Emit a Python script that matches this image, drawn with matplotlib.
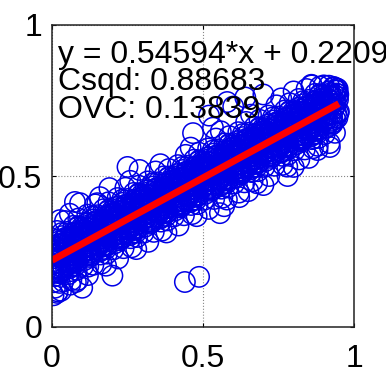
import matplotlib
matplotlib.use('Agg')
import matplotlib.pyplot as plt

plt.rcParams['font.family'] = ['Liberation Sans', 'DejaVu Sans']

# fit shown in the annotation
slope = 0.54594
intercept = 0.2209
csqd = 0.88683
ovc = 0.13839

# scatter points, one row per narrow x strip (whole cloud)
x_pts = [
    0.003, 0.021, 0.011, 0.017, 0.006, 0.024, 0.014, 0.001, 0.019, 0.009, 0.005, 0.012, 0.019, 0.023, 0.009,
    0.040, 0.029, 0.047, 0.033, 0.043, 0.037, 0.027, 0.045, 0.032, 0.050, 0.035, 0.041, 0.028, 0.046, 0.038,
    0.053, 0.071, 0.061, 0.067, 0.056, 0.074, 0.064, 0.051, 0.069, 0.059, 0.055, 0.062, 0.069, 0.073, 0.059,
    0.090, 0.079, 0.097, 0.083, 0.093, 0.087, 0.077, 0.095, 0.082, 0.100, 0.085, 0.091, 0.078, 0.096, 0.088,
    0.103, 0.121, 0.111, 0.117, 0.106, 0.124, 0.114, 0.101, 0.119, 0.109, 0.105, 0.112, 0.119, 0.123, 0.109,
    0.140, 0.129, 0.147, 0.133, 0.143, 0.137, 0.127, 0.145, 0.132, 0.150, 0.135, 0.141, 0.128, 0.146, 0.138,
    0.153, 0.171, 0.161, 0.167, 0.156, 0.174, 0.164, 0.151, 0.169, 0.159, 0.155, 0.162, 0.169, 0.173, 0.159,
    0.190, 0.179, 0.197, 0.183, 0.193, 0.187, 0.177, 0.195, 0.182, 0.200, 0.185, 0.191, 0.178, 0.196, 0.188,
    0.203, 0.221, 0.211, 0.217, 0.206, 0.224, 0.214, 0.201, 0.219, 0.209, 0.205, 0.212, 0.219, 0.223, 0.209,
    0.240, 0.229, 0.247, 0.233, 0.243, 0.237, 0.227, 0.245, 0.232, 0.250, 0.235, 0.241, 0.228, 0.246, 0.238,
    0.253, 0.271, 0.261, 0.267, 0.256, 0.274, 0.264, 0.251, 0.269, 0.259, 0.255, 0.262, 0.269, 0.273, 0.259,
    0.290, 0.279, 0.297, 0.283, 0.293, 0.287, 0.277, 0.295, 0.282, 0.300, 0.285, 0.291, 0.278, 0.296, 0.288,
    0.303, 0.321, 0.311, 0.317, 0.306, 0.324, 0.314, 0.301, 0.319, 0.309, 0.305, 0.312, 0.319, 0.323, 0.309,
    0.340, 0.329, 0.347, 0.333, 0.343, 0.337, 0.327, 0.345, 0.332, 0.350, 0.335, 0.341, 0.328, 0.346, 0.338,
    0.353, 0.371, 0.361, 0.367, 0.356, 0.374, 0.364, 0.351, 0.369, 0.359, 0.355, 0.362, 0.369, 0.373, 0.359,
    0.390, 0.379, 0.397, 0.383, 0.393, 0.387, 0.377, 0.395, 0.382, 0.400, 0.385, 0.391, 0.378, 0.396, 0.388,
    0.403, 0.421, 0.411, 0.417, 0.406, 0.424, 0.414, 0.401, 0.419, 0.409, 0.405, 0.412, 0.419, 0.423, 0.409,
    0.440, 0.429, 0.447, 0.433, 0.443, 0.437, 0.427, 0.445, 0.432, 0.450, 0.435, 0.441, 0.428, 0.446, 0.438,
    0.453, 0.471, 0.461, 0.467, 0.456, 0.474, 0.464, 0.451, 0.469, 0.459, 0.455, 0.462, 0.469, 0.473, 0.459,
    0.490, 0.479, 0.497, 0.483, 0.493, 0.487, 0.477, 0.495, 0.482, 0.500, 0.485, 0.491, 0.478, 0.496, 0.488,
    0.503, 0.521, 0.511, 0.517, 0.506, 0.524, 0.514, 0.501, 0.519, 0.509, 0.505, 0.512, 0.519, 0.523, 0.509,
    0.540, 0.529, 0.547, 0.533, 0.543, 0.537, 0.527, 0.545, 0.532, 0.550, 0.535, 0.541, 0.528, 0.546, 0.538,
    0.553, 0.571, 0.561, 0.567, 0.556, 0.574, 0.564, 0.551, 0.569, 0.559, 0.555, 0.562, 0.569, 0.573, 0.559,
    0.590, 0.579, 0.597, 0.583, 0.593, 0.587, 0.577, 0.595, 0.582, 0.600, 0.585, 0.591, 0.578, 0.596, 0.588,
    0.603, 0.621, 0.611, 0.617, 0.606, 0.624, 0.614, 0.601, 0.619, 0.609, 0.605, 0.612, 0.619, 0.623, 0.609,
    0.640, 0.629, 0.647, 0.633, 0.643, 0.637, 0.627, 0.645, 0.632, 0.650, 0.635, 0.641, 0.628, 0.646, 0.638,
    0.653, 0.671, 0.661, 0.667, 0.656, 0.674, 0.664, 0.651, 0.669, 0.659, 0.655, 0.662, 0.669, 0.673, 0.659,
    0.690, 0.679, 0.697, 0.683, 0.693, 0.687, 0.677, 0.695, 0.682, 0.700, 0.685, 0.691, 0.678, 0.696, 0.688,
    0.703, 0.721, 0.711, 0.717, 0.706, 0.724, 0.714, 0.701, 0.719, 0.709, 0.705, 0.712, 0.719, 0.723, 0.709,
    0.740, 0.729, 0.747, 0.733, 0.743, 0.737, 0.727, 0.745, 0.732, 0.750, 0.735, 0.741, 0.728, 0.746, 0.738,
    0.753, 0.771, 0.761, 0.767, 0.756, 0.774, 0.764, 0.751, 0.769, 0.759, 0.755, 0.762, 0.769, 0.773, 0.759,
    0.790, 0.779, 0.797, 0.783, 0.793, 0.787, 0.777, 0.795, 0.782, 0.800, 0.785, 0.791, 0.778, 0.796, 0.788,
    0.803, 0.821, 0.811, 0.817, 0.806, 0.824, 0.814, 0.801, 0.819, 0.809, 0.805, 0.812, 0.819, 0.823, 0.809,
    0.840, 0.829, 0.847, 0.833, 0.843, 0.837, 0.827, 0.845, 0.832, 0.850, 0.835, 0.841, 0.828, 0.846, 0.838,
    0.853, 0.871, 0.861, 0.867, 0.856, 0.874, 0.864, 0.851, 0.869, 0.859, 0.855, 0.862, 0.869, 0.873, 0.859,
    0.890, 0.879, 0.897, 0.883, 0.893, 0.887, 0.877, 0.895, 0.882, 0.900, 0.885, 0.891, 0.878, 0.896, 0.888,
    0.903, 0.921, 0.911, 0.917, 0.906, 0.924, 0.914, 0.901, 0.919, 0.909, 0.905, 0.912, 0.919, 0.923, 0.909,
    0.940, 0.929, 0.947, 0.933, 0.943, 0.937, 0.927, 0.945, 0.932, 0.950, 0.935, 0.941, 0.928, 0.946, 0.938,
    # stragglers around the edges of the cloud
    0.440, 0.487, 0.017, 0.100, 0.200, 0.086, 0.026, 0.005, 0.010, 0.030, 0.055, 0.000, 0.120, 0.060,
    0.026, 0.093, 0.150, 0.076, 0.190, 0.250, 0.290, 0.467, 0.533, 0.580, 0.520, 0.600, 0.640, 0.700,
    0.800, 0.860, 0.900, 0.948, 0.556, 0.780, 0.920, 0.800, 0.850, 0.880, 0.700, 0.620, 0.570, 0.650,
]
y_pts = [
    0.148, 0.258, 0.198, 0.318, 0.228, 0.178, 0.288, 0.238, 0.118, 0.268, 0.193, 0.243, 0.273, 0.213, 0.253,
    0.291, 0.181, 0.261, 0.231, 0.351, 0.151, 0.271, 0.201, 0.311, 0.221, 0.276, 0.216, 0.246, 0.296, 0.196,
    0.235, 0.335, 0.185, 0.295, 0.215, 0.265, 0.155, 0.315, 0.255, 0.375, 0.280, 0.200, 0.290, 0.250, 0.225,
    0.289, 0.149, 0.329, 0.219, 0.299, 0.359, 0.239, 0.319, 0.189, 0.259, 0.249, 0.309, 0.204, 0.279, 0.334,
    0.202, 0.312, 0.252, 0.372, 0.282, 0.232, 0.342, 0.292, 0.172, 0.322, 0.247, 0.297, 0.327, 0.267, 0.307,
    0.346, 0.236, 0.316, 0.286, 0.406, 0.206, 0.326, 0.256, 0.366, 0.276, 0.331, 0.271, 0.301, 0.351, 0.251,
    0.290, 0.390, 0.240, 0.350, 0.270, 0.320, 0.210, 0.370, 0.310, 0.430, 0.335, 0.255, 0.345, 0.305, 0.280,
    0.343, 0.203, 0.383, 0.273, 0.353, 0.413, 0.293, 0.373, 0.243, 0.313, 0.303, 0.363, 0.258, 0.333, 0.388,
    0.257, 0.367, 0.307, 0.427, 0.337, 0.287, 0.397, 0.347, 0.227, 0.377, 0.302, 0.352, 0.382, 0.322, 0.362,
    0.401, 0.291, 0.371, 0.341, 0.461, 0.261, 0.381, 0.311, 0.421, 0.331, 0.386, 0.326, 0.356, 0.406, 0.306,
    0.344, 0.444, 0.294, 0.404, 0.324, 0.374, 0.264, 0.424, 0.364, 0.484, 0.389, 0.309, 0.399, 0.359, 0.334,
    0.398, 0.258, 0.438, 0.328, 0.408, 0.468, 0.348, 0.428, 0.298, 0.368, 0.358, 0.418, 0.313, 0.388, 0.443,
    0.312, 0.422, 0.362, 0.482, 0.392, 0.342, 0.452, 0.402, 0.282, 0.432, 0.357, 0.407, 0.437, 0.377, 0.417,
    0.455, 0.345, 0.425, 0.395, 0.515, 0.315, 0.435, 0.365, 0.475, 0.385, 0.440, 0.380, 0.410, 0.460, 0.360,
    0.399, 0.499, 0.349, 0.459, 0.379, 0.429, 0.319, 0.479, 0.419, 0.539, 0.444, 0.364, 0.454, 0.414, 0.389,
    0.453, 0.313, 0.493, 0.383, 0.463, 0.523, 0.403, 0.483, 0.353, 0.423, 0.413, 0.473, 0.368, 0.443, 0.498,
    0.366, 0.476, 0.416, 0.536, 0.446, 0.396, 0.506, 0.456, 0.336, 0.486, 0.411, 0.461, 0.491, 0.431, 0.471,
    0.510, 0.400, 0.480, 0.450, 0.570, 0.370, 0.490, 0.420, 0.530, 0.440, 0.495, 0.435, 0.465, 0.515, 0.415,
    0.454, 0.554, 0.404, 0.514, 0.434, 0.484, 0.374, 0.534, 0.474, 0.594, 0.499, 0.419, 0.509, 0.469, 0.444,
    0.507, 0.367, 0.547, 0.437, 0.517, 0.577, 0.457, 0.537, 0.407, 0.477, 0.467, 0.527, 0.422, 0.497, 0.552,
    0.421, 0.531, 0.471, 0.591, 0.501, 0.451, 0.561, 0.511, 0.391, 0.541, 0.466, 0.516, 0.546, 0.486, 0.526,
    0.564, 0.454, 0.534, 0.504, 0.624, 0.424, 0.544, 0.474, 0.584, 0.494, 0.549, 0.489, 0.519, 0.569, 0.469,
    0.508, 0.608, 0.458, 0.568, 0.488, 0.538, 0.428, 0.588, 0.528, 0.648, 0.553, 0.473, 0.563, 0.523, 0.498,
    0.562, 0.422, 0.602, 0.492, 0.572, 0.632, 0.512, 0.592, 0.462, 0.532, 0.522, 0.582, 0.477, 0.552, 0.607,
    0.475, 0.585, 0.525, 0.645, 0.555, 0.505, 0.615, 0.565, 0.445, 0.595, 0.520, 0.570, 0.600, 0.540, 0.580,
    0.619, 0.509, 0.589, 0.559, 0.679, 0.479, 0.599, 0.529, 0.639, 0.549, 0.604, 0.544, 0.574, 0.624, 0.524,
    0.563, 0.663, 0.513, 0.623, 0.543, 0.593, 0.483, 0.643, 0.583, 0.703, 0.608, 0.528, 0.618, 0.578, 0.553,
    0.616, 0.476, 0.656, 0.546, 0.626, 0.686, 0.566, 0.646, 0.516, 0.586, 0.576, 0.636, 0.531, 0.606, 0.661,
    0.530, 0.640, 0.580, 0.700, 0.610, 0.560, 0.670, 0.620, 0.500, 0.650, 0.575, 0.625, 0.655, 0.595, 0.635,
    0.674, 0.564, 0.644, 0.614, 0.734, 0.534, 0.654, 0.584, 0.694, 0.604, 0.659, 0.599, 0.629, 0.679, 0.579,
    0.617, 0.717, 0.567, 0.677, 0.597, 0.647, 0.537, 0.697, 0.637, 0.757, 0.662, 0.582, 0.672, 0.632, 0.607,
    0.671, 0.531, 0.711, 0.601, 0.681, 0.741, 0.621, 0.701, 0.571, 0.641, 0.631, 0.691, 0.586, 0.661, 0.716,
    0.585, 0.695, 0.635, 0.755, 0.665, 0.615, 0.725, 0.675, 0.555, 0.705, 0.630, 0.680, 0.710, 0.650, 0.690,
    0.728, 0.618, 0.698, 0.668, 0.788, 0.588, 0.708, 0.638, 0.748, 0.658, 0.713, 0.653, 0.683, 0.733, 0.633,
    0.672, 0.772, 0.622, 0.732, 0.652, 0.702, 0.592, 0.752, 0.692, 0.802, 0.717, 0.637, 0.727, 0.687, 0.662,
    0.726, 0.586, 0.766, 0.656, 0.736, 0.796, 0.676, 0.756, 0.626, 0.696, 0.686, 0.746, 0.641, 0.716, 0.771,
    0.639, 0.749, 0.689, 0.799, 0.719, 0.669, 0.779, 0.729, 0.609, 0.759, 0.684, 0.734, 0.764, 0.704, 0.744,
    0.783, 0.673, 0.753, 0.723, 0.790, 0.643, 0.763, 0.693, 0.795, 0.713, 0.768, 0.708, 0.738, 0.788, 0.688,
    # stragglers around the edges of the cloud
    0.149, 0.166, 0.113, 0.130, 0.170, 0.156, 0.146, 0.105, 0.130, 0.120, 0.175, 0.180, 0.200, 0.140,
    0.354, 0.410, 0.410, 0.414, 0.460, 0.530, 0.520, 0.642, 0.660, 0.745, 0.700, 0.730, 0.760, 0.770,
    0.780, 0.800, 0.800, 0.770, 0.377, 0.500, 0.596, 0.530, 0.560, 0.600, 0.470, 0.430, 0.400, 0.450,
]

# the dense core close to the fit line (solid blue in the picture)
core_x = [
    0.008, 0.016, 0.002, 0.022, 0.013, 0.006, 0.019, 0.011, 0.024, 0.004,
    0.045, 0.026, 0.039, 0.034, 0.048, 0.042, 0.030, 0.037, 0.028, 0.043,
    0.058, 0.066, 0.052, 0.072, 0.063, 0.056, 0.069, 0.061, 0.074, 0.054,
    0.095, 0.076, 0.089, 0.084, 0.098, 0.092, 0.080, 0.087, 0.078, 0.093,
    0.108, 0.116, 0.102, 0.122, 0.113, 0.106, 0.119, 0.111, 0.124, 0.104,
    0.145, 0.126, 0.139, 0.134, 0.148, 0.142, 0.130, 0.137, 0.128, 0.143,
    0.158, 0.166, 0.152, 0.172, 0.163, 0.156, 0.169, 0.161, 0.174, 0.154,
    0.195, 0.176, 0.189, 0.184, 0.198, 0.192, 0.180, 0.187, 0.178, 0.193,
    0.208, 0.216, 0.202, 0.222, 0.213, 0.206, 0.219, 0.211, 0.224, 0.204,
    0.245, 0.226, 0.239, 0.234, 0.248, 0.242, 0.230, 0.237, 0.228, 0.243,
    0.258, 0.266, 0.252, 0.272, 0.263, 0.256, 0.269, 0.261, 0.274, 0.254,
    0.295, 0.276, 0.289, 0.284, 0.298, 0.292, 0.280, 0.287, 0.278, 0.293,
    0.308, 0.316, 0.302, 0.322, 0.313, 0.306, 0.319, 0.311, 0.324, 0.304,
    0.345, 0.326, 0.339, 0.334, 0.348, 0.342, 0.330, 0.337, 0.328, 0.343,
    0.358, 0.366, 0.352, 0.372, 0.363, 0.356, 0.369, 0.361, 0.374, 0.354,
    0.395, 0.376, 0.389, 0.384, 0.398, 0.392, 0.380, 0.387, 0.378, 0.393,
    0.408, 0.416, 0.402, 0.422, 0.413, 0.406, 0.419, 0.411, 0.424, 0.404,
    0.445, 0.426, 0.439, 0.434, 0.448, 0.442, 0.430, 0.437, 0.428, 0.443,
    0.458, 0.466, 0.452, 0.472, 0.463, 0.456, 0.469, 0.461, 0.474, 0.454,
    0.495, 0.476, 0.489, 0.484, 0.498, 0.492, 0.480, 0.487, 0.478, 0.493,
    0.508, 0.516, 0.502, 0.522, 0.513, 0.506, 0.519, 0.511, 0.524, 0.504,
    0.545, 0.526, 0.539, 0.534, 0.548, 0.542, 0.530, 0.537, 0.528, 0.543,
    0.558, 0.566, 0.552, 0.572, 0.563, 0.556, 0.569, 0.561, 0.574, 0.554,
    0.595, 0.576, 0.589, 0.584, 0.598, 0.592, 0.580, 0.587, 0.578, 0.593,
    0.608, 0.616, 0.602, 0.622, 0.613, 0.606, 0.619, 0.611, 0.624, 0.604,
    0.645, 0.626, 0.639, 0.634, 0.648, 0.642, 0.630, 0.637, 0.628, 0.643,
    0.658, 0.666, 0.652, 0.672, 0.663, 0.656, 0.669, 0.661, 0.674, 0.654,
    0.695, 0.676, 0.689, 0.684, 0.698, 0.692, 0.680, 0.687, 0.678, 0.693,
    0.708, 0.716, 0.702, 0.722, 0.713, 0.706, 0.719, 0.711, 0.724, 0.704,
    0.745, 0.726, 0.739, 0.734, 0.748, 0.742, 0.730, 0.737, 0.728, 0.743,
    0.758, 0.766, 0.752, 0.772, 0.763, 0.756, 0.769, 0.761, 0.774, 0.754,
    0.795, 0.776, 0.789, 0.784, 0.798, 0.792, 0.780, 0.787, 0.778, 0.793,
    0.808, 0.816, 0.802, 0.822, 0.813, 0.806, 0.819, 0.811, 0.824, 0.804,
    0.845, 0.826, 0.839, 0.834, 0.848, 0.842, 0.830, 0.837, 0.828, 0.843,
    0.858, 0.866, 0.852, 0.872, 0.863, 0.856, 0.869, 0.861, 0.874, 0.854,
    0.895, 0.876, 0.889, 0.884, 0.898, 0.892, 0.880, 0.887, 0.878, 0.893,
    0.908, 0.916, 0.902, 0.922, 0.913, 0.906, 0.919, 0.911, 0.924, 0.904,
    0.945, 0.926, 0.939, 0.934, 0.948, 0.942, 0.930, 0.937, 0.928, 0.943,
]
core_y = [
    0.168, 0.263, 0.208, 0.283, 0.183, 0.238, 0.273, 0.198, 0.248, 0.218,
    0.271, 0.191, 0.246, 0.301, 0.216, 0.281, 0.186, 0.256, 0.201, 0.291,
    0.195, 0.290, 0.235, 0.310, 0.210, 0.265, 0.300, 0.225, 0.275, 0.245,
    0.299, 0.219, 0.274, 0.329, 0.244, 0.309, 0.214, 0.284, 0.229, 0.319,
    0.222, 0.317, 0.262, 0.337, 0.237, 0.292, 0.327, 0.252, 0.302, 0.272,
    0.326, 0.246, 0.301, 0.356, 0.271, 0.336, 0.241, 0.311, 0.256, 0.346,
    0.250, 0.345, 0.290, 0.365, 0.265, 0.320, 0.355, 0.280, 0.330, 0.300,
    0.353, 0.273, 0.328, 0.383, 0.298, 0.363, 0.268, 0.338, 0.283, 0.373,
    0.277, 0.372, 0.317, 0.392, 0.292, 0.347, 0.382, 0.307, 0.357, 0.327,
    0.381, 0.301, 0.356, 0.411, 0.326, 0.391, 0.296, 0.366, 0.311, 0.401,
    0.304, 0.399, 0.344, 0.419, 0.319, 0.374, 0.409, 0.334, 0.384, 0.354,
    0.408, 0.328, 0.383, 0.438, 0.353, 0.418, 0.323, 0.393, 0.338, 0.428,
    0.332, 0.427, 0.372, 0.447, 0.347, 0.402, 0.437, 0.362, 0.412, 0.382,
    0.435, 0.355, 0.410, 0.465, 0.380, 0.445, 0.350, 0.420, 0.365, 0.455,
    0.359, 0.454, 0.399, 0.474, 0.374, 0.429, 0.464, 0.389, 0.439, 0.409,
    0.463, 0.383, 0.438, 0.493, 0.408, 0.473, 0.378, 0.448, 0.393, 0.483,
    0.386, 0.481, 0.426, 0.501, 0.401, 0.456, 0.491, 0.416, 0.466, 0.436,
    0.490, 0.410, 0.465, 0.520, 0.435, 0.500, 0.405, 0.475, 0.420, 0.510,
    0.414, 0.509, 0.454, 0.529, 0.429, 0.484, 0.519, 0.444, 0.494, 0.464,
    0.517, 0.437, 0.492, 0.547, 0.462, 0.527, 0.432, 0.502, 0.447, 0.537,
    0.441, 0.536, 0.481, 0.556, 0.456, 0.511, 0.546, 0.471, 0.521, 0.491,
    0.544, 0.464, 0.519, 0.574, 0.489, 0.554, 0.459, 0.529, 0.474, 0.564,
    0.468, 0.563, 0.508, 0.583, 0.483, 0.538, 0.573, 0.498, 0.548, 0.518,
    0.572, 0.492, 0.547, 0.602, 0.517, 0.582, 0.487, 0.557, 0.502, 0.592,
    0.495, 0.590, 0.535, 0.610, 0.510, 0.565, 0.600, 0.525, 0.575, 0.545,
    0.599, 0.519, 0.574, 0.629, 0.544, 0.609, 0.514, 0.584, 0.529, 0.619,
    0.523, 0.618, 0.563, 0.638, 0.538, 0.593, 0.628, 0.553, 0.603, 0.573,
    0.626, 0.546, 0.601, 0.656, 0.571, 0.636, 0.541, 0.611, 0.556, 0.646,
    0.550, 0.645, 0.590, 0.665, 0.565, 0.620, 0.655, 0.580, 0.630, 0.600,
    0.654, 0.574, 0.629, 0.684, 0.599, 0.664, 0.569, 0.639, 0.584, 0.674,
    0.577, 0.672, 0.617, 0.692, 0.592, 0.647, 0.682, 0.607, 0.657, 0.627,
    0.681, 0.601, 0.656, 0.711, 0.626, 0.691, 0.596, 0.666, 0.611, 0.701,
    0.605, 0.700, 0.645, 0.720, 0.620, 0.675, 0.710, 0.635, 0.685, 0.655,
    0.708, 0.628, 0.683, 0.738, 0.653, 0.718, 0.623, 0.693, 0.638, 0.728,
    0.632, 0.727, 0.672, 0.747, 0.647, 0.702, 0.737, 0.662, 0.712, 0.682,
    0.736, 0.656, 0.711, 0.766, 0.681, 0.746, 0.651, 0.721, 0.666, 0.756,
    0.659, 0.754, 0.699, 0.774, 0.674, 0.729, 0.764, 0.689, 0.739, 0.709,
    0.763, 0.683, 0.738, 0.793, 0.708, 0.773, 0.678, 0.748, 0.693, 0.783,
]

x_ticks = [0, 0.5, 1]
y_ticks = [0, 0.5, 1]
x_ticklabels = ['0', '0.5', '1']
y_ticklabels = ['0', '0.5', '1']

fig = plt.figure(figsize=(3.86, 3.73), dpi=100)
ax = fig.add_axes([52 / 386, 46 / 373, 302 / 386, 302 / 373])

marker_style = dict(s=215, facecolors='none', edgecolors='#0000e6', linewidths=1.1, zorder=2)
ax.scatter(x_pts, y_pts, **marker_style)
ax.scatter(core_x, core_y, **marker_style)

all_x = x_pts + core_x
fit_x = [min(all_x), max(all_x)]
fit_y = [slope * v + intercept for v in fit_x]
ax.plot(fit_x, fit_y, color='red', linewidth=5, solid_capstyle='butt', zorder=3)

ax.set_xlim(0, 1)
ax.set_ylim(0, 1)
ax.set_xticks(x_ticks)
ax.set_yticks(y_ticks)
ax.set_xticklabels(x_ticklabels)
ax.set_yticklabels(y_ticklabels)
ax.tick_params(direction='in', length=3, width=0.8, labelsize=23, top=True, right=True)
ax.tick_params(axis='x', pad=12)
ax.tick_params(axis='y', pad=7)
ax.grid(True, linestyle=':', color='#888888', linewidth=0.8)
for sp in ax.spines.values():
    sp.set_linewidth(1.1)
    sp.set_color('#222222')
    sp.set_zorder(4)

txt = dict(fontsize=23, color='black', ha='left', va='center', transform=ax.transAxes,
           clip_on=False, zorder=5)
ax.text(0.02, 0.90, 'y = %.5f*x + %.4f' % (slope, intercept), **txt)
ax.text(0.02, 0.811, 'Csqd: %.5f' % csqd, **txt)
ax.text(0.02, 0.719, 'OVC: %.5f' % ovc, **txt)

fig.savefig('out.png', dpi=100)
